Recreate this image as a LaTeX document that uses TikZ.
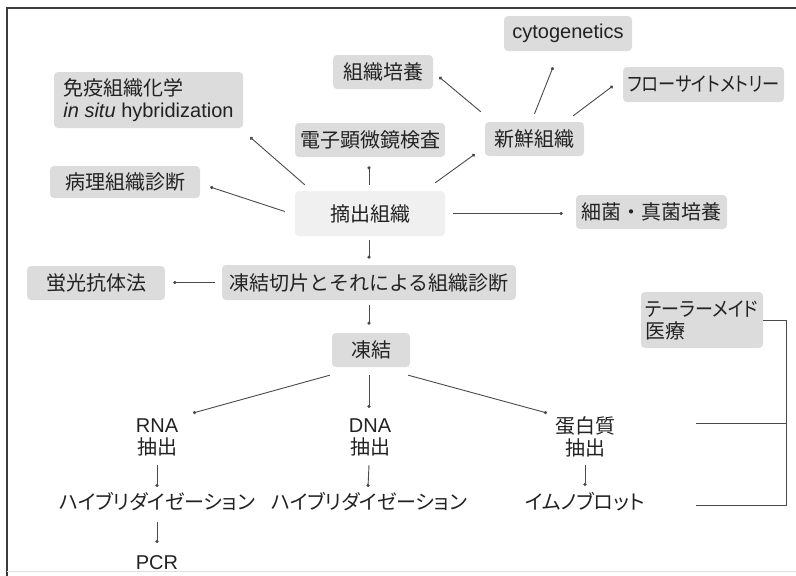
\documentclass[tikz,border=0pt]{standalone}
\usepackage{graphicx}
\usepackage{fontspec}
\setmainfont{Liberation Sans}
\newfontfamily\jp{Noto Sans CJK JP}
\newfontfamily\jpk[RawFeature=+palt]{Noto Sans CJK JP}
\usetikzlibrary{arrows.meta}
\definecolor{ink}{HTML}{222222}
\definecolor{boxfill}{HTML}{DCDCDC}
\definecolor{palefill}{HTML}{F0F0F0}
\definecolor{wire}{HTML}{4A4A4A}
\definecolor{frame}{HTML}{3A3A3A}
\begin{document}
\begin{tikzpicture}[x=1pt,y=-1pt,
  every node/.style={text=ink, font=\fontsize{20}{22}\selectfont},
  box/.style={fill=boxfill, rounded corners=4pt, inner sep=2pt},
  palebox/.style={fill=palefill, rounded corners=4pt, inner sep=2pt},
  plain/.style={inner sep=0pt, align=center},
  conn/.style={draw=wire, line width=0.9pt, -{Circle[length=3.2pt]}},
  bracket/.style={draw=wire, line width=0.9pt}]
\useasboundingbox (0,0) rectangle (796,576);
% page frame
\draw[frame, line width=1.6pt] (7,576) -- (7,8) -- (796,8);
\draw[black!12, line width=1pt] (7,571) -- (796,571);

% boxed items
\node[box, minimum width=189, minimum height=56, align=left] (imm) at (148.5,100)
  {{\jp 免疫組織化学}\\\textit{in situ} hybridization};
\node[box, minimum width=150, minimum height=32] (byori) at (125,182) {\jp 病理組織診断};
\node[box, minimum width=100, minimum height=34] (baiyo) at (383,72) {\jp 組織培養};
\node[box, minimum width=128, minimum height=35] (cyto) at (568,33.5) {cytogenetics};
\node[box, minimum width=161, minimum height=35] (flow) at (703.5,84.5)
  {\scalebox{0.86}[1]{\jpk フローサイトメトリー}};
\node[box, minimum width=99, minimum height=34] (shinsen) at (534.5,139) {\jp 新鮮組織};
\node[box, minimum width=150, minimum height=34] (denshi) at (370,140) {\jp 電子顕微鏡検査};
\node[palebox, minimum width=150, minimum height=45] (teki) at (370,213.5) {\jp 摘出組織};
\node[box, minimum width=151, minimum height=34] (saikin) at (651.5,212) {\jp 細菌・真菌培養};
\node[box, minimum width=294, minimum height=35] (sec) at (369,282.5) {\jp 凍結切片とそれによる組織診断};
\node[box, minimum width=138, minimum height=34] (keiko) at (96,283) {\jp 蛍光抗体法};
\node[box, minimum width=78, minimum height=34] (toketsu) at (371,350) {\jp 凍結};
\node[box, minimum width=122, minimum height=56, align=left] (tailor) at (702,320)
  {\scalebox{0.9}[1]{\jpk テーラーメイド}\\{\jp 医療}};

% plain text items
\node[plain] (rna) at (157,437) {RNA\\{\jp 抽出}};
\node[plain] (dna) at (370,437) {DNA\\{\jp 抽出}};
\node[plain] (prot) at (585,437) {{\jp 蛋白質}\\{\jp 抽出}};
\node[plain] (hyb1) at (157,502) {\jpk ハイブリダイゼーション};
\node[plain] (hyb2) at (369,502) {\jpk ハイブリダイゼーション};
\node[plain] (immuno) at (585,502) {\jpk イムノブロット};
\node[plain] (pcr) at (157,563) {PCR};

% connectors
\draw[conn] ([shift={(10,-6)}]teki.north west) -- ([shift={(7,9)}]imm.south east);
\draw[conn] ([shift={(-10,-2)}]teki.west) -- ([shift={(10,5)}]byori.east);
\draw[conn] ([shift={(-1,-6)}]teki.north) -- ([shift={(-1,9)}]denshi.south);
\draw[conn] ([shift={(-10,-8)}]teki.north east) -- ([shift={(-10,-2)}]shinsen.south west);
\draw[conn] ([shift={(-4,-10)}]shinsen.north west) -- ([shift={(6,5)}]baiyo.east);
\draw[conn] ([shift={(0,-8)}]shinsen.north) -- ([shift={(-15,16)}]cyto.south);
\draw[conn] ([shift={(-11,-6)}]shinsen.north east) -- ([shift={(-10,1.5)}]flow.west);
\draw[conn] ([shift={(8,0)}]teki.east) -- ([shift={(-13,0)}]saikin.west |- teki.east);
\draw[conn] ([shift={(-1,4)}]teki.south) -- ([shift={(0,-6)}]sec.north);
\draw[conn] ([shift={(-7,0)}]sec.west) -- ([shift={(8,0)}]keiko.east |- sec.west);
\draw[conn] ([shift={(0,5)}]sec.south) -- ([shift={(-2,-8)}]toketsu.north);
\draw[conn] ([shift={(-2,8)}]toketsu.south west) -- ([shift={(36,-24)}]rna.center);
\draw[conn] ([shift={(-2,8)}]toketsu.south) -- ([shift={(-1,-29)}]dna.center);
\draw[conn] ([shift={(-2,8)}]toketsu.south east) -- ([shift={(-38,-24)}]prot.center);
\draw[conn] ([shift={(0,28)}]rna.center) -- ([shift={(0,-15)}]hyb1.center);
\draw[conn] ([shift={(-1,28)}]dna.center) -- ([shift={(-1,-15)}]hyb2.center);
\draw[conn] ([shift={(0,28)}]prot.center) -- ([shift={(0,-16)}]immuno.center);
\draw[conn] ([shift={(0,20)}]hyb1.center) -- ([shift={(0,-20)}]pcr.center);

% bracket joining the extraction rows to tailor-made medicine
\coordinate (brmid) at (696,423);
\coordinate (brlow) at (696,505);
\coordinate (brcorner) at (786,505);
\draw[bracket] (tailor.east) -| (brcorner) -- (brlow);
\draw[bracket] (brmid) -- (brmid -| brcorner);
\end{tikzpicture}
\end{document}
